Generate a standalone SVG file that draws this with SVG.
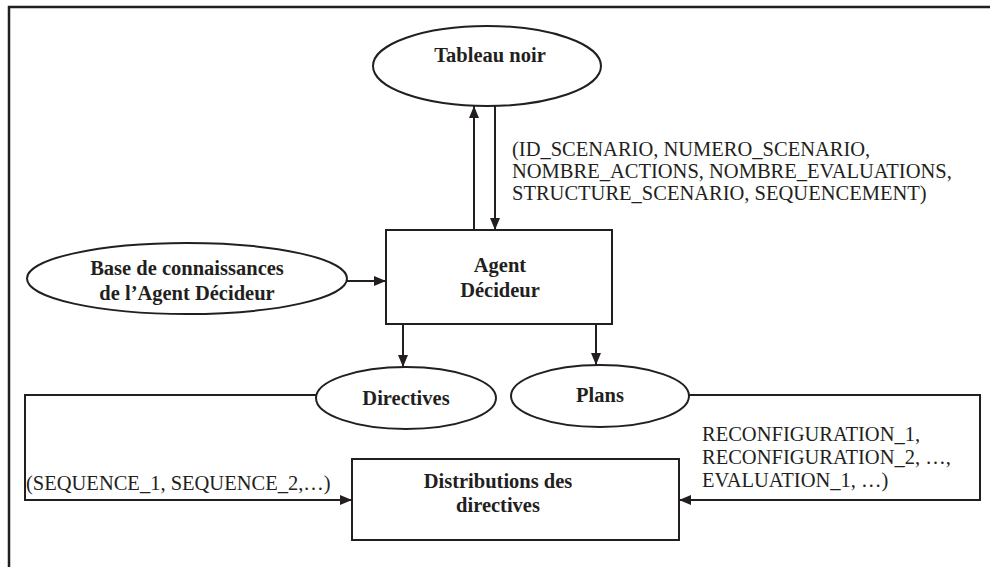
<svg xmlns="http://www.w3.org/2000/svg" width="990" height="567" viewBox="0 0 990 567">
  <defs>
    <marker id="arrow" viewBox="0 0 12 10" refX="12" refY="5" markerWidth="12" markerHeight="10" markerUnits="userSpaceOnUse" orient="auto">
      <path d="M0,0 L12,5 L0,10 Z" fill="#231f20"/>
    </marker>
    <style>
      .shape { fill: #ffffff; stroke: #231f20; stroke-width: 2; }
      .link { fill: none; stroke: #231f20; stroke-width: 2; }
      .bold { font-family: "Liberation Serif", "Times New Roman", serif; font-weight: bold; font-size: 20.5px; fill: #231f20; text-anchor: middle; }
      .label { font-family: "Liberation Serif", "Times New Roman", serif; font-size: 20.5px; fill: #231f20; }
    </style>
  </defs>

  <rect width="990" height="567" fill="#ffffff"/>

  <!-- outer frame (top and left edges) -->
  <path d="M9,567 L9,7 L990,7" fill="none" stroke="#231f20" stroke-width="2.5"/>

  <!-- connectors -->
  <g id="connectors">
    <line class="link" x1="474" y1="230" x2="474" y2="106" marker-end="url(#arrow)"/>
    <line class="link" x1="495" y1="106" x2="495" y2="230" marker-end="url(#arrow)"/>
    <line class="link" x1="347" y1="281" x2="386" y2="281" marker-end="url(#arrow)"/>
    <line class="link" x1="403" y1="324" x2="403" y2="367" marker-end="url(#arrow)"/>
    <line class="link" x1="596" y1="324" x2="596" y2="365" marker-end="url(#arrow)"/>
    <polyline class="link" points="318,395 25,395 25,500 352,500" marker-end="url(#arrow)"/>
    <polyline class="link" points="689,395 980,395 980,500 679,500" marker-end="url(#arrow)"/>
    <text class="label" x="512" y="156">(ID_SCENARIO, NUMERO_SCENARIO,</text>
    <text class="label" x="512" y="178">NOMBRE_ACTIONS, NOMBRE_EVALUATIONS,</text>
    <text class="label" x="512" y="200">STRUCTURE_SCENARIO, SEQUENCEMENT)</text>
    <text class="label" x="26" y="490">(SEQUENCE_1, SEQUENCE_2,…)</text>
    <text class="label" x="702" y="441">RECONFIGURATION_1,</text>
    <text class="label" x="702" y="464">RECONFIGURATION_2, …,</text>
    <text class="label" x="702" y="487">EVALUATION_1, …)</text>
  </g>

  <g id="tableau-noir">
    <ellipse class="shape" cx="487" cy="66" rx="114" ry="40"/>
    <text class="bold" x="490" y="62">Tableau noir</text>
  </g>

  <g id="base-connaissances">
    <ellipse class="shape" cx="187" cy="278.5" rx="160" ry="35.5"/>
    <text class="bold" x="187" y="275">Base de connaissances</text>
    <text class="bold" x="187" y="300">de l’Agent Décideur</text>
  </g>

  <g id="agent-decideur">
    <rect class="shape" x="386" y="230" width="226" height="94"/>
    <text class="bold" x="500" y="272">Agent</text>
    <text class="bold" x="500" y="297">Décideur</text>
  </g>

  <g id="directives">
    <ellipse class="shape" cx="406" cy="398" rx="90" ry="31"/>
    <text class="bold" x="406" y="405">Directives</text>
  </g>

  <g id="plans">
    <ellipse class="shape" cx="600" cy="396" rx="89" ry="31"/>
    <text class="bold" x="600" y="402">Plans</text>
  </g>

  <g id="distributions">
    <rect class="shape" x="352" y="459" width="327" height="81"/>
    <text class="bold" x="498" y="488">Distributions des</text>
    <text class="bold" x="498" y="512">directives</text>
  </g>
</svg>
